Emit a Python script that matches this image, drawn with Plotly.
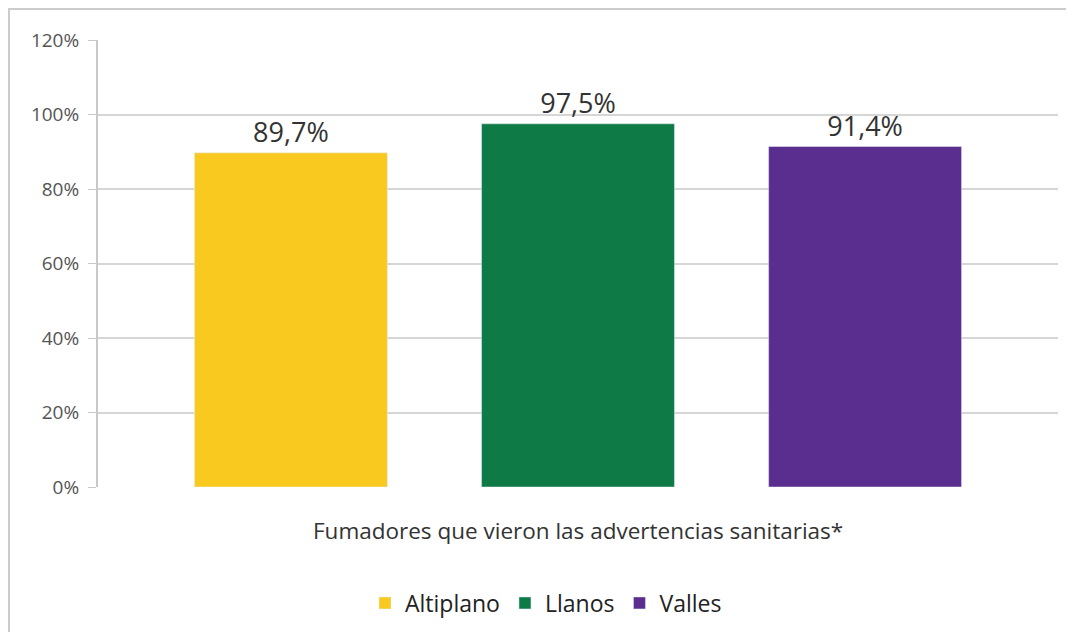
import plotly.graph_objects as go

regions = ["Altiplano", "Llanos", "Valles"]
values = [89.7, 97.5, 91.4]
colors = ["#F9C920", "#0E7A46", "#5A2E8E"]
y_ticks = [0, 20, 40, 60, 80, 100, 120]
x_title = "Fumadores que vieron las advertencias sanitarias*"

FONT = "Open Sans"
fig = go.Figure()
for i, (name, v, c) in enumerate(zip(regions, values, colors)):
    fig.add_trace(go.Bar(
        x=[i], y=[v], name=name, marker_color=c, width=0.672,
        text=[v], texttemplate="%{y:.1f}%", textposition="outside",
        textfont=dict(size=27, color="#333333", family=FONT),
        cliponaxis=False,
    ))

W, H = 1066, 624
L, R, T, B = 90, 16, 32, 145
pw, ph = W - L - R, H - T - B

fig.update_layout(
    width=W, height=H,
    margin=dict(l=L, r=R, t=T, b=B, autoexpand=False),
    paper_bgcolor="white", plot_bgcolor="white",
    separators=",.",
    font=dict(family=FONT, color="#444444"),
    showlegend=True,
    legend=dict(orientation="h", x=(538 - L) / pw, xanchor="center",
                y=(H - B - 595) / ph, yanchor="middle",
                font=dict(size=23, color="#222222", family=FONT),
                itemwidth=30, traceorder="normal"),
    xaxis=dict(range=[-0.672, 2.672], showticklabels=False, showgrid=False,
               zeroline=False, showline=False, ticks=""),
    yaxis=dict(range=[0, 120], tickvals=y_ticks, ticktext=[f"{t}%" for t in y_ticks],
               showgrid=True, gridcolor="#d6d6d6", gridwidth=2,
               showline=True, linecolor="#c8c8c8", linewidth=2,
               ticks="outside", ticklen=8, tickcolor="#c8c8c8",
               ticklabelstandoff=5,
               tickfont=dict(size=19, color="#555555", family=FONT), zeroline=False),
    annotations=[dict(text=x_title, xref="paper", yref="paper",
                      x=(570 - L) / pw, y=(H - B - 522) / ph,
                      showarrow=False, font=dict(size=22.5, color="#333333", family=FONT),
                      xanchor="center", yanchor="middle")],
    shapes=[dict(type="rect", xref="paper", yref="paper",
                 x0=(1 - L) / pw, x1=(1064 - L) / pw,
                 y0=(H - B - 640) / ph, y1=(H - B - 1) / ph,
                 line=dict(color="#cccccc", width=2), layer="below")],
)

fig.write_html("out.html")
